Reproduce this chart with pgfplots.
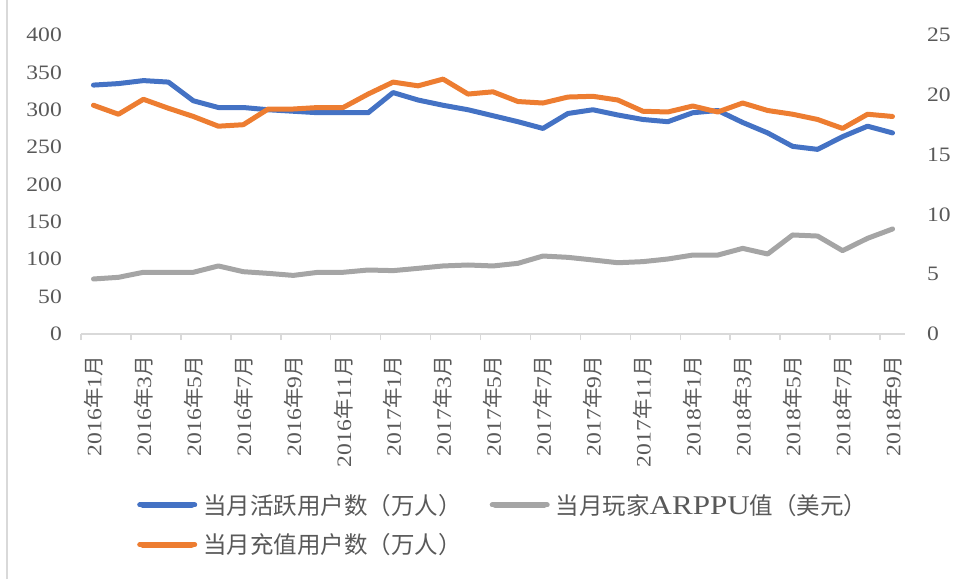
\documentclass[border=0pt]{standalone}
\usepackage{fontspec}
\setmainfont{Liberation Serif}[FakeStretch=1.15]
\newfontfamily\cjk{Noto Sans CJK SC}
\usepackage{pgfplots}
\pgfplotsset{compat=1.18}
\definecolor{cblue}{HTML}{4472C4}
\definecolor{corange}{HTML}{ED7D31}
\definecolor{cgray}{HTML}{A5A5A5}
\definecolor{cframe}{HTML}{D9D9D9}
\definecolor{ctext}{HTML}{595959}
\newcommand{\ym}[2]{#1{\cjk 年}#2{\cjk 月}}
\pgfplotsset{
  common/.style={
    at={(0pt,0pt)}, anchor=south west,
    scale only axis, width=824pt, height=299pt,
    xmin=-0.5, xmax=32.5,
    major tick length=0pt,
    /pgf/number format/assume math mode=true,
    tick label style={font=\fontsize{20.5}{24}\selectfont, text=ctext},
  },
  ser/.style={line width=5pt, line join=round, line cap=round},
}
\begin{document}
\begin{tikzpicture}
\path[use as bounding box] (-81pt,-245pt) rectangle (875pt,334pt);
\draw[cframe, line width=1.5pt] (-74pt,-245pt) -- (-74pt,334pt);
\begin{axis}[common,
  ymin=0, ymax=400,
  axis x line*=bottom, axis y line*=left,
  y axis line style={draw=none},
  x axis line style={draw=cframe, line width=1.5pt, -},
  xtick={0,2,...,32},
  xticklabels={\ym{2016}{1},\ym{2016}{3},\ym{2016}{5},\ym{2016}{7},\ym{2016}{9},\ym{2016}{11},
    \ym{2017}{1},\ym{2017}{3},\ym{2017}{5},\ym{2017}{7},\ym{2017}{9},\ym{2017}{11},
    \ym{2018}{1},\ym{2018}{3},\ym{2018}{5},\ym{2018}{7},\ym{2018}{9}},
  minor xtick={-0.5,1.5,...,31.5},
  minor tick length=6pt,
  tick align=outside,
  minor tick style={draw=cframe, line width=1.5pt},
  xticklabel style={rotate=90, anchor=east, inner sep=0pt},
  xticklabel shift=22pt,
  ytick={0,50,...,400},
  yticklabel style={anchor=east, inner sep=0pt},
  yticklabel shift=19pt,
]
\addplot[ser, cblue] coordinates {
(0,333)(1,335)(2,339)(3,337)(4,312)(5,303)(6,303)(7,300)(8,298)(9,296)(10,296)
(11,296)(12,323)(13,313)(14,306)(15,300)(16,292)(17,284)(18,275)(19,295)(20,300)
(21,293)(22,287)(23,284)(24,296)(25,299)(26,283)(27,269)(28,251)(29,247)(30,264)
(31,278)(32,269)};
\addplot[ser, corange] coordinates {
(0,306)(1,294)(2,314)(3,302)(4,291)(5,278)(6,280)(7,301)(8,301)(9,303)(10,303)
(11,321)(12,337)(13,332)(14,341)(15,321)(16,324)(17,311)(18,309)(19,317)(20,318)
(21,313)(22,298)(23,297)(24,305)(25,297)(26,309)(27,299)(28,294)(29,287)(30,275)
(31,294)(32,291)};
\end{axis}
\begin{axis}[common,
  ymin=0, ymax=25,
  axis x line=none, axis y line*=right,
  y axis line style={draw=none},
  ytick={0,5,...,25},
  yticklabel style={anchor=west, inner sep=0pt},
  yticklabel shift=22pt,
  legend columns=2,
  legend cell align=left,
  legend image code/.code={\path (0pt,0pt) -- (55pt,0pt);
    \draw[#1, line width=6pt, line cap=round] (3pt,0pt) -- (52pt,0pt);},
  legend style={draw=none, fill=none, inner sep=0pt,
    at={(axis description cs:0.068,-0.535)}, anchor=north west,
    font=\cjk\fontsize{23.5}{26}\selectfont, text=ctext,
    row sep=18pt,
    nodes={inner sep=0pt},
    /tikz/every odd column/.append style={column sep=6pt},
    /tikz/every even column/.append style={column sep=28pt}},
]
\addlegendimage{ser, cblue}
\addlegendentry{当月活跃用户数（万人）}
\addplot[ser, cgray] coordinates {
(0,4.6)(1,4.74)(2,5.16)(3,5.16)(4,5.16)(5,5.69)(6,5.21)(7,5.07)(8,4.9)(9,5.16)(10,5.16)
(11,5.35)(12,5.3)(13,5.49)(14,5.69)(15,5.77)(16,5.69)(17,5.91)(18,6.52)(19,6.41)(20,6.19)
(21,5.96)(22,6.05)(23,6.27)(24,6.6)(25,6.6)(26,7.16)(27,6.69)(28,8.28)(29,8.19)(30,6.97)
(31,8.0)(32,8.78)};
\addlegendentry{当月玩家{\rmfamily\fontsize{27}{30}\selectfont ARPPU}值（美元）}
\addlegendimage{ser, corange}
\addlegendentry{当月充值用户数（万人）}
\end{axis}
\end{tikzpicture}
\end{document}
